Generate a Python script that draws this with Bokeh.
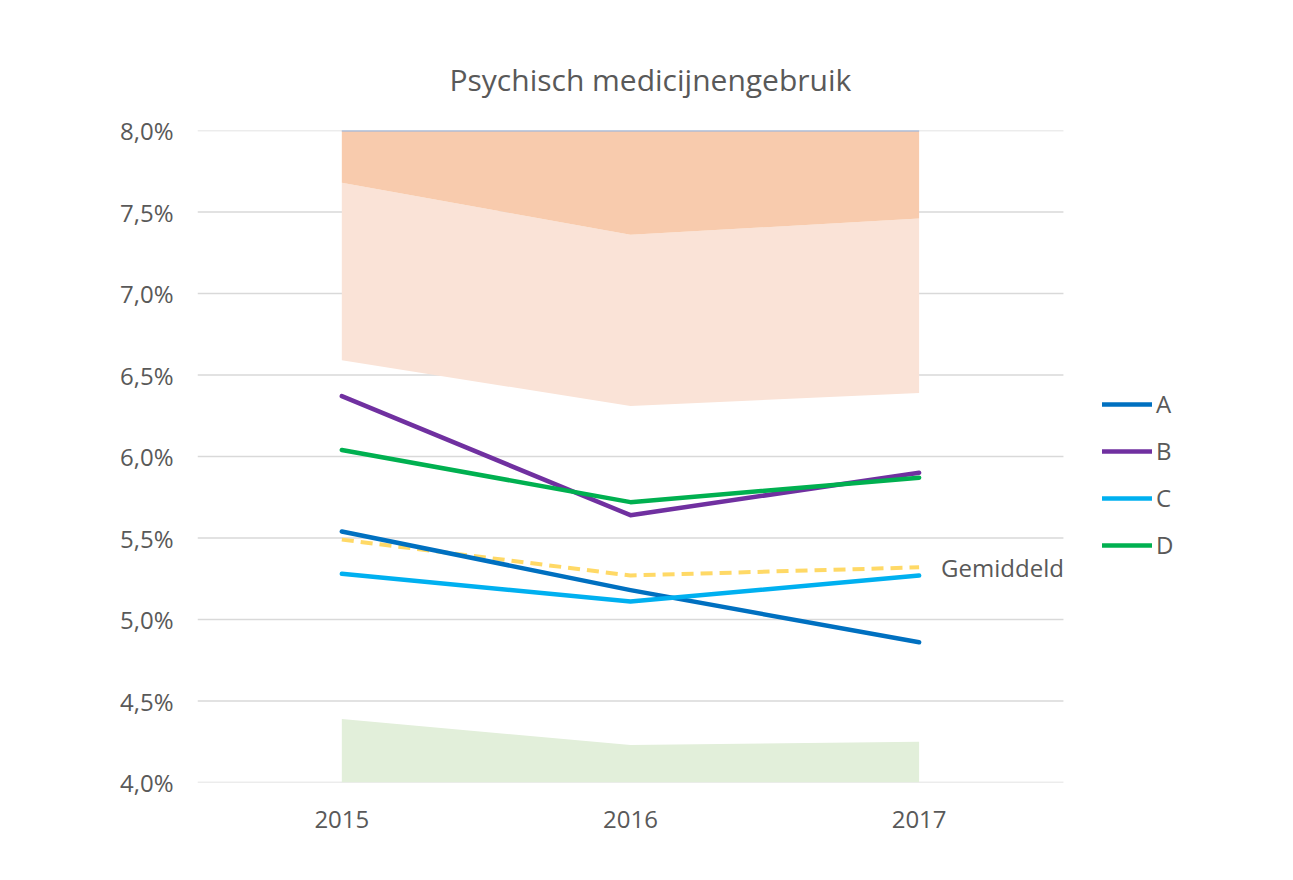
from bokeh.plotting import figure
from bokeh.models import Range1d, CustomJSTickFormatter, FixedTicker, Legend, LegendItem
from bokeh.embed import file_html
from bokeh.resources import INLINE
from bokeh.core.properties import value

years = ["2015", "2016", "2017"]
series_names = ["A", "B", "C", "D"]
vals_A = [5.54, 5.18, 4.86]
vals_B = [6.37, 5.64, 5.90]
vals_C = [5.28, 5.11, 5.27]
vals_D = [6.04, 5.72, 5.87]
gemiddeld = [5.49, 5.27, 5.32]
band_green_top = [4.39, 4.23, 4.25]
band_light_bottom = [6.59, 6.31, 6.39]
band_dark_bottom = [7.68, 7.36, 7.46]
y_min, y_max = 4.0, 8.0
y_ticks = [4.0, 4.5, 5.0, 5.5, 6.0, 6.5, 7.0, 7.5, 8.0]

FONT = "Open Sans"
TXT = "#595959"

# category slots: each year occupies one unit, centred at i + 0.5
n = len(years)
xs = [i + 0.5 for i in range(n)]
x_extent = 3.752  # extra room on the right for the legend and label

p = figure(x_range=Range1d(0, x_extent), y_range=Range1d(y_min, y_max),
           width=1285, height=872, output_backend="svg", toolbar_location=None,
           min_border_left=197, min_border_right=5, min_border_top=130, min_border_bottom=90)

p.title.text = "Psychisch medicijnengebruik"
p.title.align = "left"
p.title.text_font = FONT
p.title.text_font_size = "30px"
p.title.text_font_style = "normal"
p.title.text_color = TXT
p.title.offset = 252
p.title.standoff = 62

p.outline_line_color = None
p.xgrid.grid_line_color = None
p.ygrid.grid_line_color = None
p.yaxis.ticker = FixedTicker(ticks=y_ticks)
p.yaxis.formatter = CustomJSTickFormatter(code="return tick.toFixed(1).replace('.', ',') + '%';")
p.xaxis.ticker = FixedTicker(ticks=xs)
p.xaxis.major_label_overrides = {x: y for x, y in zip(xs, years)}
for ax in (p.xaxis[0], p.yaxis[0]):
    ax.axis_line_color = None
    ax.major_tick_line_color = None
    ax.minor_tick_line_color = None
    ax.major_label_text_font = FONT
    ax.major_label_text_font_size = "24px"
    ax.major_label_text_color = TXT
p.yaxis.major_label_standoff = 18
p.xaxis.major_label_standoff = 22

# horizontal gridlines across the category area only
p.segment(x0=[0] * len(y_ticks), x1=[n] * len(y_ticks), y0=y_ticks, y1=y_ticks,
          line_color="#D9D9D9", line_width=1.5)

# bands
p.varea(x=xs, y1=[y_min] * n, y2=band_green_top, fill_color="#E2EFDA")
p.varea(x=xs, y1=band_light_bottom, y2=band_dark_bottom, fill_color="#FAE3D7")
p.varea(x=xs, y1=band_dark_bottom, y2=[y_max] * n, fill_color="#F8CBAD")
p.line(x=xs, y=[y_max] * n, line_color="#8FB4E3", line_width=2)

# average
p.line(x=xs, y=gemiddeld, line_color="#FFD966", line_width=4, line_dash="12 7")
p.text(x=[xs[-1]], y=[gemiddeld[-1]], text=["Gemiddeld"], x_offset=22, y_offset=0,
       text_baseline="middle", text_font=value(FONT), text_font_size="24px", text_color=TXT)

colors = ["#0070C0", "#7030A0", "#00B0F0", "#00B050"]
items = []
for name, vals, c in zip(series_names, [vals_A, vals_B, vals_C, vals_D], colors):
    r = p.line(x=xs, y=vals, line_color=c, line_width=4.5, line_cap="round", line_join="round")
    items.append(LegendItem(label=name, renderers=[r]))

legend = Legend(items=items, location=(905, 221), orientation="vertical",
                glyph_width=50, glyph_height=20, label_height=20, spacing=14,
                padding=0, margin=0, label_standoff=4,
                label_text_font=FONT, label_text_font_size="24px", label_text_color=TXT,
                border_line_color=None, background_fill_alpha=0)
p.add_layout(legend, "center")

open("out.html", "w").write(file_html(p, INLINE))
